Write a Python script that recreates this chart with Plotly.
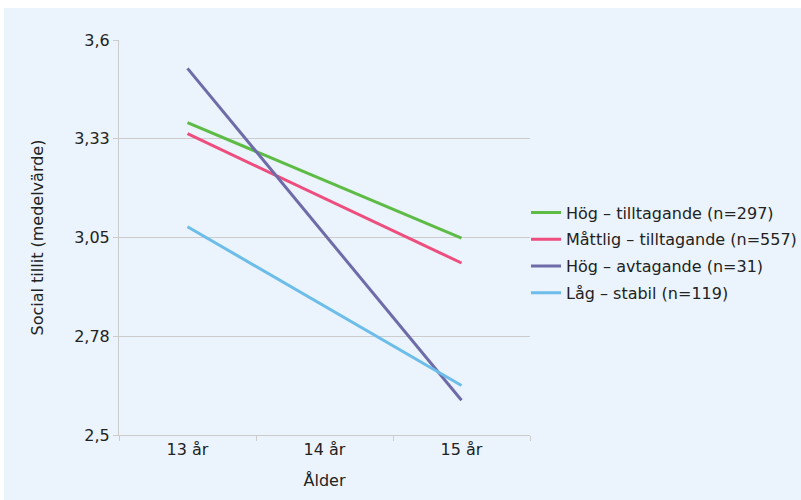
import plotly.graph_objects as go

categories = ["13 år", "14 år", "15 år"]
x_points = ["13 år", "15 år"]
series_names = [
    "Hög – tilltagande (n=297)",
    "Måttlig – tilltagande (n=557)",
    "Hög – avtagande (n=31)",
    "Låg – stabil (n=119)",
]
hog_tilltagande = [3.37, 3.048]
mattlig_tilltagande = [3.339, 2.979]
hog_avtagande = [3.521, 2.597]
lag_stabil = [3.08, 2.638]
colors = ["#5DBB46", "#EE4E7D", "#6E6BA8", "#6CBDE9"]

tick_vals = [2.5, 2.775, 3.05, 3.325, 3.6]
tick_text = ["2,5", "2,78", "3,05", "3,33", "3,6"]

fig = go.Figure()
for i, (name, vals, col) in enumerate(zip(series_names,
                           [hog_tilltagande, mattlig_tilltagande, hog_avtagande, lag_stabil],
                           colors)):
    fig.add_trace(go.Scatter(x=x_points, y=vals, mode="lines", name=name,
                             legendgroup=f"g{i}",
                             line=dict(color=col, width=3)))

bg = "#EBF4FC"
L, R, T, B = 119, 271, 40, 65
W, H = 801, 500
pw, ph = W - L - R, H - T - B
FONT = "DejaVu Sans, Verdana, sans-serif"

fig.update_layout(
    width=W, height=H,
    margin=dict(l=L, r=R, t=T, b=B, autoexpand=False),
    paper_bgcolor="white",
    plot_bgcolor=bg,
    font=dict(family=FONT, size=16, color="#222222"),
    showlegend=True,
    legend=dict(xref="container", yref="container",
                x=526 / W, xanchor="left", y=1 - 253 / H, yanchor="middle",
                bgcolor="rgba(0,0,0,0)", font=dict(size=16, color="#222222"),
                tracegroupgap=3, itemwidth=30),
    shapes=[dict(type="rect", xref="paper", yref="paper", layer="below",
                 x0=(4 - L) / pw, x1=(W - L) / pw + 0.01,
                 y0=-(B + 5) / ph, y1=(H - 8 - B) / ph,
                 fillcolor=bg, line=dict(width=0))],
)
fig.update_xaxes(
    type="category", categoryorder="array", categoryarray=categories,
    range=[-0.5, 2.5], tickson="boundaries", ticks="outside", ticklen=5,
    tickcolor="#CCCCCC", showgrid=False, showline=True, linecolor="#CCCCCC",
    linewidth=1, title=dict(text="Ålder", font=dict(size=16), standoff=16),
    tickfont=dict(size=16),
)
fig.update_yaxes(
    range=[2.5, 3.6], tickvals=tick_vals, ticktext=tick_text,
    ticks="outside", ticklen=5, tickcolor="#CCCCCC",
    showgrid=True, gridcolor="#CCCCCC", gridwidth=1,
    showline=True, linecolor="#CCCCCC", linewidth=1, zeroline=False,
    title=dict(text="Social tillit (medelvärde)", font=dict(size=16), standoff=26),
    tickfont=dict(size=16),
)
fig.write_html("out.html", config={"displayModeBar": False},
               post_script="document.body.style.margin='0';document.body.style.padding='0';")
